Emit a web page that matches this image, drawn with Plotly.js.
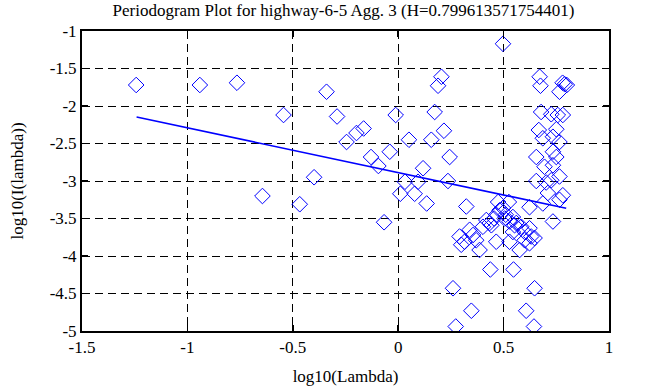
<!DOCTYPE html>
<html>
<head>
<meta charset="utf-8">
<script src="https://cdn.plot.ly/plotly-3.0.1.min.js"></script>
<style>html,body{margin:0;padding:0;background:#fff;}#chart{width:658px;height:387px;}</style>
</head>
<body>
<div id="chart"></div>
<script>
const titleText = "Periodogram Plot for highway-6-5 Agg. 3 (H=0.799613571754401)";
const xTitle = "log10(Lambda)";
const yTitle = "log10(I(lambda))";

const logLambda = [
  -1.243, -0.941, -0.765, -0.644, -0.544, -0.467, -0.399, -0.34, -0.29, -0.245,
  -0.198, -0.164, -0.129, -0.094, -0.067, -0.040, -0.012, 0.010, 0.032, 0.051,
  0.078, 0.094, 0.118, 0.135, 0.157, 0.173, 0.189, 0.205, 0.217, 0.236,
  0.244, 0.497,
  0.260, 0.273, 0.291, 0.299, 0.315, 0.323, 0.339, 0.347, 0.355, 0.370,
  0.386, 0.402, 0.418, 0.437, 0.442, 0.465, 0.465, 0.474, 0.481, 0.497,
  0.505, 0.525, 0.528, 0.528, 0.544, 0.547, 0.560, 0.576, 0.584, 0.600,
  0.607, 0.623, 0.623, 0.623, 0.631, 0.644, 0.647, 0.647, 0.686, 0.734,
  0.765, 0.434, 0.552, 0.544, 0.600, 0.455, 0.510,
  0.655, 0.655, 0.667, 0.671, 0.675, 0.678, 0.686, 0.694, 0.702, 0.710,
  0.726, 0.726, 0.734, 0.734, 0.734, 0.750, 0.750, 0.757, 0.765, 0.765,
  0.765, 0.781, 0.781, 0.780, 0.790, 0.800
];
const logI = [
  -1.72, -1.72, -1.69, -3.20, -2.12, -3.31, -2.95, -1.81, -2.14, -2.48,
  -2.36, -2.30, -2.68, -2.80, -3.55, -2.61, -2.12, -3.17, -3.01, -2.45,
  -3.17, -3.01, -2.83, -3.30, -2.45, -2.08, -1.73, -1.61, -2.33, -3.00,
  -2.68, -1.17,
  -4.43, -4.94, -3.74, -3.85, -3.81, -3.34, -3.65, -4.73, -3.72, -3.79,
  -3.92, -3.61, -3.52, -4.18, -3.59, -3.45, -3.81, -3.28, -3.39, -3.36,
  -3.50, -3.28, -3.54, -3.81, -3.48, -4.18, -3.56, -3.92, -3.61, -3.68,
  -4.73, -3.35, -3.63, -3.83, -3.74, -4.94, -3.76, -4.43, -3.30, -3.54,
  -3.25, -3.56, -3.59, -3.68, -3.79, -3.50, -3.45,
  -2.68, -3.00, -2.32, -1.61, -1.73, -2.08, -2.43, -2.81, -3.02, -3.16,
  -2.11, -2.99, -2.41, -2.61, -2.79, -2.31, -2.68, -2.12, -1.81, -2.48,
  -2.94, -2.12, -3.19, -1.69, -1.71, -1.72
];

const fitX = [-1.241, 0.797];
const fitY = [-2.147, -3.364];

const xTicks = [-1.5, -1, -0.5, 0, 0.5, 1];
const xTickText = ["-1.5", "-1", "-0.5", "0", "0.5", "1"];
const yTicks = [-1, -1.5, -2, -2.5, -3, -3.5, -4, -4.5, -5];
const yTickText = ["-1", "-1.5", "-2", "-2.5", "-3", "-3.5", "-4", "-4.5", "-5"];

const font = {family: "Liberation Serif, Times New Roman, serif", size: 17, color: "#000"};

const traces = [
  {
    x: logLambda, y: logI, type: "scatter", mode: "markers",
    marker: {symbol: "diamond-open", size: 12, color: "#0000ff", line: {width: 1, color: "#0000ff"}},
    hoverinfo: "skip"
  },
  {
    x: fitX, y: fitY, type: "scatter", mode: "lines",
    line: {color: "#0000ff", width: 1.6},
    hoverinfo: "skip"
  }
];

const axisCommon = {
  showline: true, linecolor: "#000", linewidth: 2, mirror: "ticks",
  ticks: "inside", ticklen: 6, tickcolor: "#000", tickwidth: 1.5,
  showgrid: true, gridcolor: "#000", gridwidth: 1, griddash: "8px,5px",
  zeroline: false, tickfont: font
};

const layout = {
  width: 658, height: 387,
  margin: {l: 82, r: 49, t: 31, b: 56, pad: 0},
  paper_bgcolor: "#fff", plot_bgcolor: "#fff",
  showlegend: false,
  font: font,
  title: {text: titleText, font: font, x: 0.522, xanchor: "center", y: 0.975, yanchor: "middle"},
  xaxis: Object.assign({}, axisCommon, {
    range: [-1.5, 1], tickmode: "array", tickvals: xTicks, ticktext: xTickText,
    title: {text: xTitle, font: font, standoff: 14}
  }),
  yaxis: Object.assign({}, axisCommon, {
    range: [-5, -1], tickmode: "array", tickvals: yTicks, ticktext: yTickText,
    title: {text: yTitle, font: font, standoff: 22}
  })
};

Plotly.newPlot("chart", traces, layout, {staticPlot: true, displayModeBar: false});
</script>
</body>
</html>
